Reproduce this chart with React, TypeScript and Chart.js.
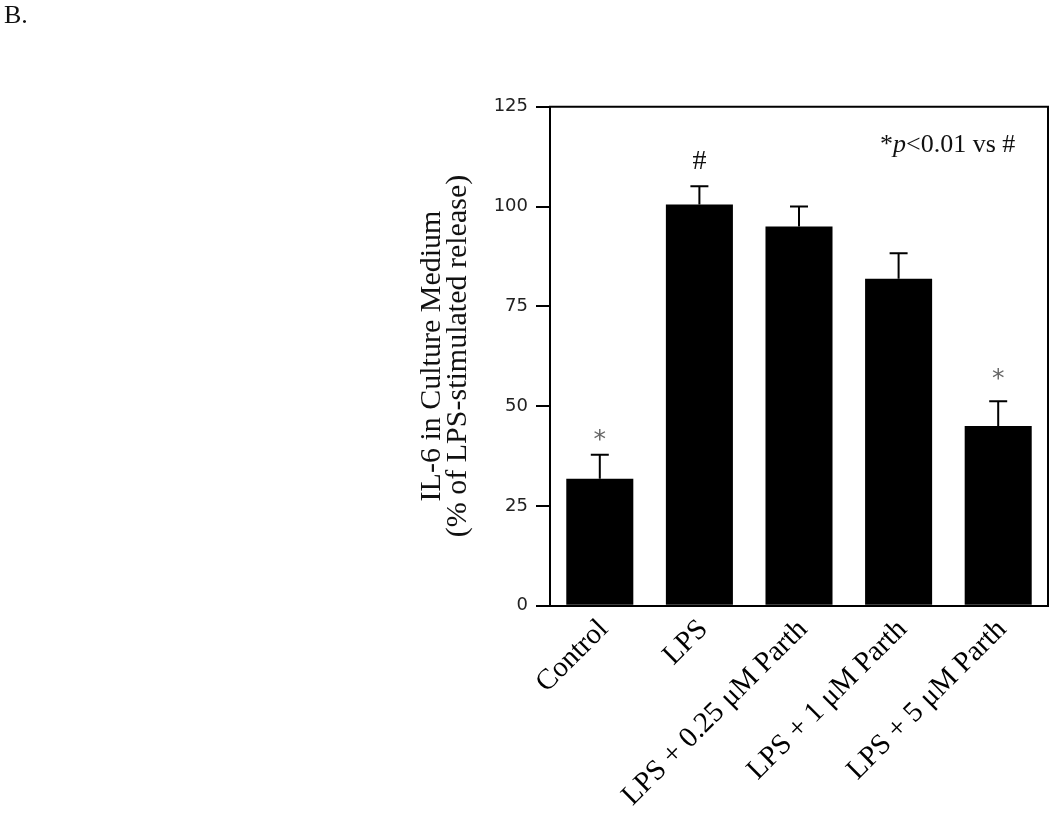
import React, { useEffect, useRef } from 'react';
import { Chart, registerables } from 'chart.js';

Chart.register(...registerables);

const categories = ['Control', 'LPS', 'LPS + 0.25 μM Parth', 'LPS + 1 μM Parth', 'LPS + 5 μM Parth'];
const meanValues = [31.8, 100.5, 95.0, 81.9, 45.0];
const errorValues = [6.0, 4.6, 5.0, 6.4, 6.2];
const markers = ['*', '#', '', '', '*'];
const yTickValues = [0, 25, 50, 75, 100, 125];
const yTitleLines = ['IL-6 in Culture Medium', '(% of LPS-stimulated release)'];
const panelLabel = 'B.';
const noteParts = [
  { text: '*', italic: false },
  { text: 'p', italic: true },
  { text: '<0.01 vs #', italic: false },
];

const SERIF = '"Liberation Serif", "Times New Roman", serif';
const SANS = '"DejaVu Sans", Verdana, sans-serif';

const overlayPlugin = {
  id: 'overlay',
  afterDatasetsDraw(chart: any) {
    const ctx: CanvasRenderingContext2D = chart.ctx;
    const ca = chart.chartArea;
    const x = chart.scales.x;
    const y = chart.scales.y;
    ctx.save();
    // frame top & right
    ctx.strokeStyle = '#000';
    ctx.lineWidth = 2;
    ctx.beginPath();
    ctx.moveTo(ca.left - 1, ca.top);
    ctx.lineTo(ca.right, ca.top);
    ctx.lineTo(ca.right, ca.bottom + 1);
    ctx.stroke();

    // error bars + markers
    const markerGap = [19, 25, 0, 0, 27];
    meanValues.forEach((m, i) => {
      const cx = x.getPixelForValue(i);
      const y0 = y.getPixelForValue(m);
      const y1 = y.getPixelForValue(m + errorValues[i]);
      ctx.strokeStyle = '#000';
      ctx.lineWidth = 2;
      ctx.beginPath();
      ctx.moveTo(cx, y0);
      ctx.lineTo(cx, y1);
      ctx.moveTo(cx - 9, y1);
      ctx.lineTo(cx + 9, y1);
      ctx.stroke();
      const mk = markers[i];
      if (mk) {
        ctx.textAlign = 'center';
        ctx.textBaseline = 'middle';
        if (mk === '*') {
          ctx.font = `25px ${SANS}`;
          ctx.fillStyle = '#666';
          ctx.fillText(mk, cx, y1 - markerGap[i] + 5);
        } else {
          ctx.font = `28px ${SERIF}`;
          ctx.fillStyle = '#111';
          ctx.fillText(mk, cx, y1 - markerGap[i]);
        }
      }
    });

    // note text
    ctx.textAlign = 'left';
    ctx.textBaseline = 'alphabetic';
    ctx.fillStyle = '#111';
    let nx = 880;
    const ny = 152;
    noteParts.forEach((p) => {
      ctx.font = `${p.italic ? 'italic ' : ''}26px ${SERIF}`;
      ctx.fillText(p.text, nx, ny);
      nx += ctx.measureText(p.text).width;
    });

    // y title
    ctx.font = `30px ${SERIF}`;
    ctx.fillStyle = '#111';
    ctx.textAlign = 'center';
    ctx.textBaseline = 'alphabetic';
    const baselines = [440, 466];
    yTitleLines.forEach((line, i) => {
      ctx.save();
      ctx.translate(baselines[i], 356);
      ctx.rotate(-Math.PI / 2);
      ctx.fillText(line, 0, 0);
      ctx.restore();
    });

    // panel label
    ctx.font = `26px ${SERIF}`;
    ctx.textAlign = 'left';
    ctx.fillText(panelLabel, 4, 23);
    ctx.restore();
  },
};

export default function App() {
  const ref = useRef<HTMLCanvasElement | null>(null);
  useEffect(() => {
    if (!ref.current) return;
    const chart = new Chart(ref.current, {
      type: 'bar',
      data: {
        labels: categories,
        datasets: [
          {
            data: meanValues,
            backgroundColor: '#000',
            borderWidth: 0,
            barPercentage: 0.673,
            categoryPercentage: 1,
          },
        ],
      },
      options: {
        animation: false,
        responsive: false,
        maintainAspectRatio: false,
        layout: { padding: { top: 106.7, right: 2, left: 0, bottom: 0 } },
        plugins: { legend: { display: false }, tooltip: { enabled: false } },
        scales: {
          x: {
            afterFit: (s: any) => {
              s.height = 815 - 605.7;
            },
            grid: { display: false, drawTicks: false },
            border: { display: true, color: '#000', width: 2 },
            ticks: {
              minRotation: 45,
              maxRotation: 45,
              autoSkip: false,
              padding: 7,
              labelOffset: 4,
              color: '#000',
              font: { family: SERIF, size: 29 },
            },
          },
          y: {
            min: 0,
            max: 125,
            afterFit: (s: any) => {
              s.width = 550;
            },
            afterBuildTicks: (s: any) => {
              s.ticks = yTickValues.map((v) => ({ value: v }));
            },
            grid: {
              display: true,
              drawOnChartArea: false,
              drawTicks: true,
              tickLength: 14,
              lineWidth: 2,
              color: '#000',
            },
            border: { display: true, color: '#000', width: 2 },
            ticks: {
              padding: 8,
              color: '#222',
              font: { family: SANS, size: 18 },
            },
          },
        },
      },
      plugins: [overlayPlugin],
    });
    return () => chart.destroy();
  }, []);
  return (
    <div style={{ position: 'absolute', left: 0, top: 0, width: 1050, height: 815, background: '#fff' }}>
      <canvas ref={ref} width={1050} height={815} style={{ width: 1050, height: 815 }} />
    </div>
  );
}
